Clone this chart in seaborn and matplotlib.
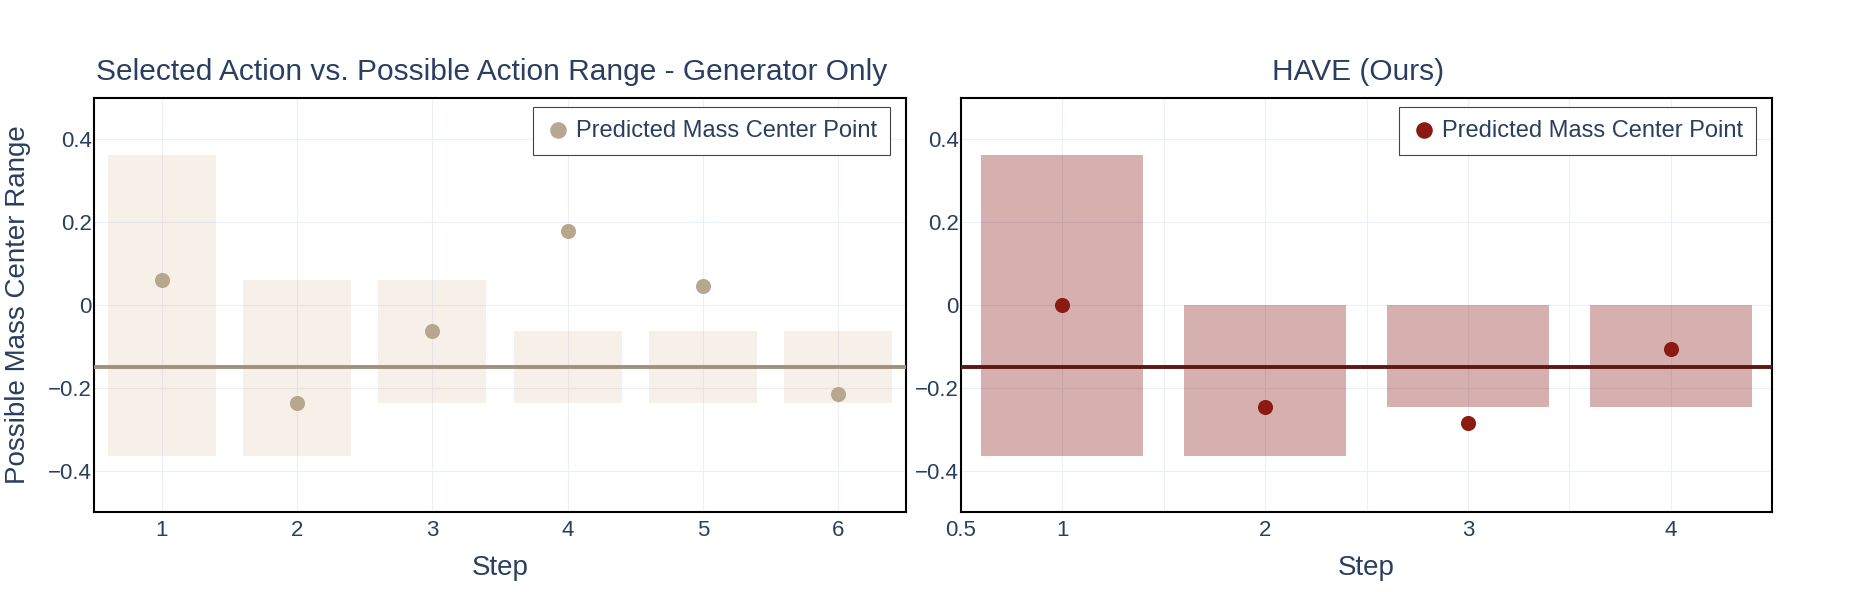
import numpy as np
import pandas as pd
import matplotlib
matplotlib.use("Agg")
import matplotlib.pyplot as plt
import seaborn as sns

# generator-only panel
gen_steps = [1, 2, 3, 4, 5, 6]
gen_range_low = [-0.364, -0.364, -0.237, -0.237, -0.237, -0.237]
gen_range_high = [0.363, 0.060, 0.060, -0.064, -0.064, -0.064]
gen_centers = [0.061, -0.237, -0.064, 0.179, 0.047, -0.216]

# HAVE panel
have_steps = [1, 2, 3, 4]
have_range_low = [-0.364, -0.364, -0.247, -0.247]
have_range_high = [0.363, 0.0, 0.0, 0.0]
have_centers = [0.0, -0.247, -0.286, -0.106]

threshold = -0.15

y_ticks = [-0.4, -0.2, 0, 0.2, 0.4]
y_tick_labels = ["\u22120.4", "\u22120.2", "0", "0.2", "0.4"]
have_x_ticks = [0.5, 1, 1.5, 2, 2.5, 3, 3.5, 4]
have_x_labels = ["0.5", "1", "", "2", "", "3", "", "4"]

TEXT = "#2a3f5f"
GRID = "#ebf0f8"

sns.set_theme(style="white")
plt.rcParams["font.family"] = ["Liberation Sans", "DejaVu Sans"]
plt.rcParams["text.color"] = TEXT
plt.rcParams["axes.labelcolor"] = TEXT
plt.rcParams["xtick.color"] = TEXT
plt.rcParams["ytick.color"] = TEXT


def draw_panel(ax, steps, low, high, centers, bar_color, bar_alpha, pt_color, line_color, title):
    df = pd.DataFrame({"step": steps, "low": low, "high": high, "center": centers})
    df["span"] = df["high"] - df["low"]
    sns.barplot(data=df, x="step", y="span", bottom=df["low"].to_numpy(), native_scale=True,
                width=0.8, color=bar_color, alpha=bar_alpha, saturation=1, linewidth=0,
                errorbar=None, ax=ax, zorder=2)
    ax.axhline(threshold, color=line_color, linewidth=2.8, zorder=3)
    sns.scatterplot(data=df, x="step", y="center", color=pt_color, s=118, linewidth=0,
                    label="Predicted Mass Center Point", ax=ax, zorder=4)

    ax.set_ylim(-0.5, 0.5)
    ax.set_xlim(0.5, len(steps) + 0.5)
    ax.set_yticks(y_ticks)
    ax.set_yticklabels(y_tick_labels)
    ax.grid(True, color=GRID, linewidth=0.8)
    ax.set_axisbelow(True)
    ax.tick_params(axis="both", length=0, labelsize=16)
    ax.tick_params(axis="x", pad=6)
    ax.tick_params(axis="y", pad=1.5)
    for s in ax.spines.values():
        s.set_visible(True)
        s.set_color("black")
        s.set_linewidth(1.5)
    ax.set_xlabel("Step", fontsize=20, labelpad=10)
    ax.set_ylabel("")
    ax.set_title(title, fontsize=21.5, color=TEXT, pad=13, x=0.49)

    leg = ax.legend(loc="upper right", bbox_to_anchor=(0.980, 0.979), borderaxespad=0,
                    fontsize=17, frameon=True, fancybox=False, framealpha=1,
                    edgecolor="#444444", borderpad=0.55, handletextpad=0.25,
                    handlelength=1.0, markerscale=1.1)
    leg.get_frame().set_linewidth(0.8)
    for t in leg.get_texts():
        t.set_color(TEXT)


fig = plt.figure(figsize=(18.53, 5.92), dpi=100)
ax1 = fig.add_axes([94 / 1853, 80 / 592, 812 / 1853, 414 / 592])
ax2 = fig.add_axes([961 / 1853, 80 / 592, 811 / 1853, 414 / 592])

draw_panel(ax1, gen_steps, gen_range_low, gen_range_high, gen_centers,
           "tan", 0.2, "#b8a78f", "#9d9180",
           "Selected Action vs. Possible Action Range - Generator Only")
ax1.set_xticks(gen_steps)
ax1.set_xticklabels([str(s) for s in gen_steps])
ax1.set_ylabel("Possible Mass Center Range", fontsize=20, labelpad=12)

draw_panel(ax2, have_steps, have_range_low, have_range_high, have_centers,
           "#8b1a1a", 0.35, "#8b1a12", "#5e1712", "HAVE (Ours)")
ax2.set_xticks(have_x_ticks)
ax2.set_xticklabels(have_x_labels)

fig.savefig("out.png", dpi=100)
